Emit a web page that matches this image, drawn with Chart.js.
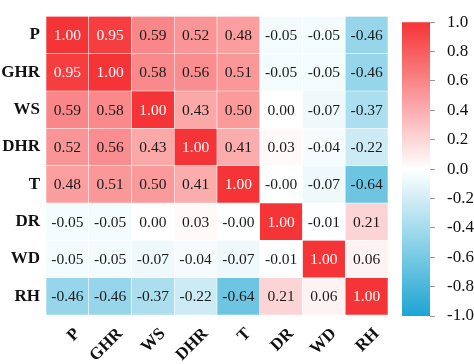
<!DOCTYPE html>
<html lang="en">
<head>
<meta charset="UTF-8">
<title>Correlation heatmap</title>
<style>
	body { margin: 0; background: #fff; }
	#wrap { position: relative; width: 474px; height: 364px; overflow: hidden; }
	canvas { position: absolute; top: 0; }
</style>
</head>
<body>
<div id="wrap">
	<canvas id="heat" width="400" height="364" style="left:0"></canvas>
	<canvas id="bar" width="78" height="364" style="left:396px"></canvas>
</div>
<script src="https://cdn.jsdelivr.net/npm/chart.js@4/dist/chart.umd.min.js"></script>
<script>
	const vars = ["P", "GHR", "WS", "DHR", "T", "DR", "WD", "RH"];

	// one row of the correlation matrix per variable
	const corrP   = [1.00, 0.95, 0.59, 0.52, 0.48, -0.05, -0.05, -0.46];
	const corrGHR = [0.95, 1.00, 0.58, 0.56, 0.51, -0.05, -0.05, -0.46];
	const corrWS  = [0.59, 0.58, 1.00, 0.43, 0.50, 0.00, -0.07, -0.37];
	const corrDHR = [0.52, 0.56, 0.43, 1.00, 0.41, 0.03, -0.04, -0.22];
	const corrT   = [0.48, 0.51, 0.50, 0.41, 1.00, -0.004, -0.07, -0.64];
	const corrDR  = [-0.05, -0.05, 0.00, 0.03, -0.004, 1.00, -0.01, 0.21];
	const corrWD  = [-0.05, -0.05, -0.07, -0.04, -0.07, -0.01, 1.00, 0.06];
	const corrRH  = [-0.46, -0.46, -0.37, -0.22, -0.64, 0.21, 0.06, 1.00];

	const corr = [corrP, corrGHR, corrWS, corrDHR, corrT, corrDR, corrWD, corrRH];

	const RED = [245, 52, 55];
	const BLUE = [29, 165, 210];

	function cellColor(v) {
		const t = Math.min(1, Math.abs(v));
		const end = v >= 0 ? RED : BLUE;
		const c = end.map(e => Math.round(255 + (e - 255) * t));
		return "rgb(" + c.join(",") + ")";
	}

	const serif = '"Liberation Serif", "Times New Roman", serif';

	// numbers inside the cells
	const cellText = {
		id: "cellText",
		afterDatasetsDraw(chart) {
			const ctx = chart.ctx;
			ctx.save();
			ctx.font = "15.5px " + serif;
			ctx.textAlign = "center";
			ctx.textBaseline = "middle";
			chart.data.datasets.forEach((ds, r) => {
				chart.getDatasetMeta(r).data.forEach((bar, c) => {
					const v = corr[r][c];
					ctx.fillStyle = Math.abs(v) >= 0.9 ? "#fff" : "#1a1a1a";
					ctx.fillText(v.toFixed(2), bar.x, (bar.y + bar.base) / 2 + 1);
				});
			});
			ctx.restore();
		}
	};

	new Chart("heat", {
		type: "bar",
		data: {
			labels: vars,
			datasets: corr.map((row, r) => ({
				data: row.map(() => [r, r + 1]),
				backgroundColor: row.map(cellColor),
				borderColor: "rgba(255,255,255,0.45)",
				borderWidth: 0.6,
				borderSkipped: false,
				barPercentage: 1,
				categoryPercentage: 1,
				grouped: false
			}))
		},
		options: {
			responsive: false,
			animation: false,
			layout: { padding: { top: 6, right: 12 } },
			plugins: { legend: { display: false }, tooltip: { enabled: false } },
			scales: {
				x: {
					grid: { display: false, drawTicks: false },
					border: { display: false },
					ticks: {
						color: "#111",
						font: { family: serif, size: 17, weight: "bold" },
						minRotation: 45,
						maxRotation: 45,
						padding: 9,
						labelOffset: 10
					},
					afterFit: s => { s.height = 49; }
				},
				y: {
					display: false,
					min: 0,
					max: 8,
					reverse: true
				},
				yl: {
					type: "category",
					labels: vars,
					position: "left",
					offset: true,
					grid: { display: false, drawTicks: false },
					border: { display: false },
					ticks: {
						color: "#111",
						font: { family: serif, size: 17, weight: "bold" },
						padding: 6
					},
					afterFit: s => { s.width = 46; }
				}
			}
		},
		plugins: [cellText]
	});

	// colour bar
	new Chart("bar", {
		type: "bar",
		data: {
			labels: [""],
			datasets: [{
				data: [[-1, 1]],
				barPercentage: 1,
				categoryPercentage: 1,
				borderWidth: 0,
				backgroundColor: ctx => {
					const a = ctx.chart.chartArea;
					if (!a) return "#fff";
					const g = ctx.chart.ctx.createLinearGradient(0, a.bottom, 0, a.top);
					g.addColorStop(0, "rgb(" + BLUE.join(",") + ")");
					g.addColorStop(0.5, "#fff");
					g.addColorStop(1, "rgb(" + RED.join(",") + ")");
					return g;
				}
			}]
		},
		options: {
			responsive: false,
			animation: false,
			layout: { padding: { left: 6, top: 5, bottom: 48 } },
			plugins: { legend: { display: false }, tooltip: { enabled: false } },
			scales: {
				x: { display: false },
				y: {
					position: "right",
					min: -1,
					max: 1,
					grid: { drawOnChartArea: false, tickLength: 5, color: "#999" },
					border: { display: false },
					ticks: {
						stepSize: 0.2,
						color: "#111",
						font: { family: serif, size: 17 },
						padding: 12,
						callback: v => Math.abs(v) < 1e-9 ? "0.0" : v.toFixed(1)
					},
					afterFit: s => { s.width = 44; }
				}
			}
		}
	});
</script>
</body>
</html>
